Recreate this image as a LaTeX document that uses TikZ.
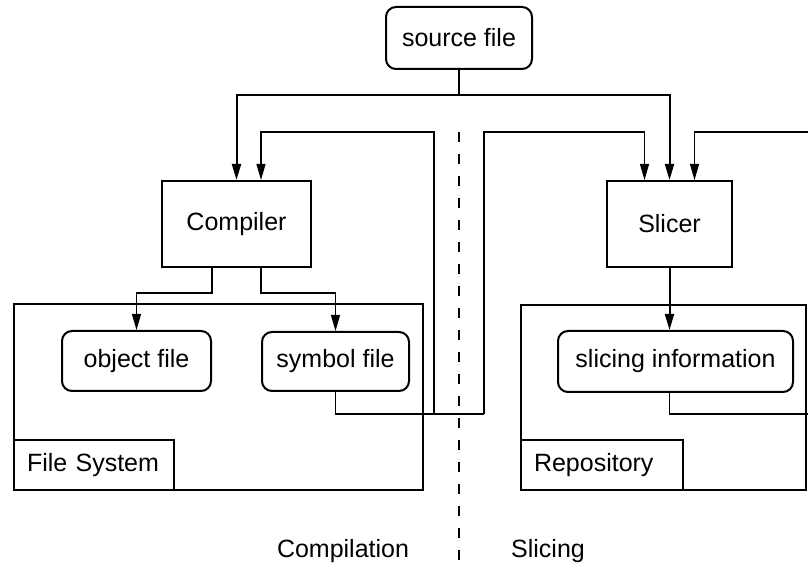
\documentclass[tikz,border=0pt]{standalone}
\usepackage{fontspec}
\setmainfont{Liberation Sans}
\usetikzlibrary{arrows.meta,positioning,calc}

\begin{document}
\begin{tikzpicture}[
  x=0.5pt, y=-0.5pt,
  font=\fontsize{12.5}{15}\selectfont,
  box/.style={rectangle, draw, line width=1pt, inner sep=0pt},
  file/.style={box, rounded corners=5pt},
  tag/.style={box, anchor=south west, minimum height=25pt, inner xsep=6.5pt, align=left},
  heavy/.style={line width=1pt, -{Triangle[length=8pt,width=4.5pt]}},
  light/.style={line width=0.6pt},
  arrow/.style={-{Triangle[length=8pt,width=4.5pt]}}
]
  \useasboundingbox (0,0) rectangle (808,571);

  % tools
  \node[file, minimum width=73pt, minimum height=31pt] (src) at (459,38) {source file};
  \node[box, minimum width=74.5pt, minimum height=43pt] (comp) at (236.5,224) {Compiler};
  \node[box, minimum width=62.5pt, minimum height=43pt] (slicer) at (669.5,224) {Slicer};

  % stores
  \node[box, minimum width=204.5pt, minimum height=93pt] (fs) at (218.5,397) {};
  \node[tag, text width=67pt] (fslabel) at (fs.south west) {File System};
  \node[box, minimum width=142.5pt, minimum height=92.5pt] (repo) at (663.5,397.5) {};
  \node[tag, text width=68pt] (repolabel) at (repo.south west) {Repository};

  \node[file, minimum width=74.5pt, minimum height=30pt] (obj) at (136.5,361) {object file};
  \node[file, minimum width=73.5pt, minimum height=29.5pt] (sym) at (335.5,361.5) {symbol file};
  \node[file, minimum width=117.5pt, minimum height=30.5pt] (slinfo) at (675.5,361.5) {slicing information};

  % source file to both tools
  \coordinate (split) at (459,95);
  \draw[heavy] (src.south) -- (split) -| (comp.north);
  \draw[heavy] (split) -| (slicer.north);

  % compiler output
  \draw[light,arrow] ([xshift=-12.25pt]comp.south) -- ++(0,25) -| (obj.north);
  \draw[light,arrow] ([xshift=12.25pt]comp.south) -- ++(0,25) -| (sym.north);

  % symbol file fed back
  \coordinate (busL) at (434,414);
  \coordinate (busR) at (484,414);
  \draw[light] (sym.south) |- (busR);
  \draw[light,arrow] (busL) -- (434,132) -| ([xshift=12.25pt]comp.north);
  \draw[light,arrow] (busR) -- (484,132) -| ([xshift=-12.5pt]slicer.north);

  % slicer and repository
  \draw[heavy] (slicer.south) -- (slicer.south |- slinfo.north);
  \coordinate (edgeA) at (808,132);
  \coordinate (edgeB) at (808,414);
  \draw[light,arrow] (edgeA) -| ([xshift=12.5pt]slicer.north);
  \draw[light] (slinfo.south -| slicer.south) |- (edgeB);

  % phases
  \coordinate (divtop) at (459,132);
  \coordinate (divbot) at (459,563);
  \draw[line width=0.8pt, dash pattern=on 5pt off 6pt] (divtop) -- (divbot);
  \node (compl) at (343,551) {Compilation};
  \node (slic) at (548,551) {Slicing};
\end{tikzpicture}
\end{document}
